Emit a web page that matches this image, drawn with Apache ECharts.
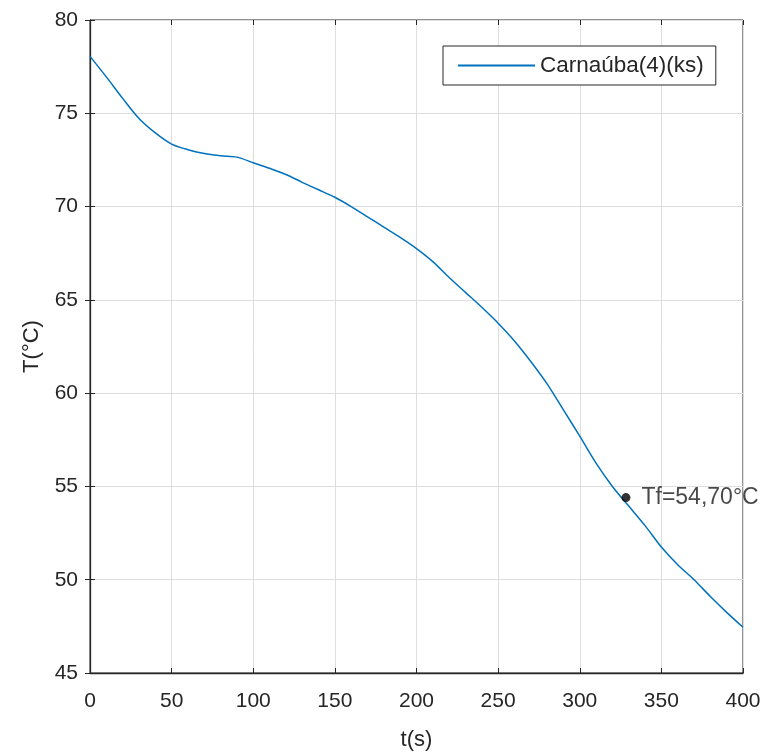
<!DOCTYPE html>
<html>
<head>
<meta charset="utf-8">
<script src="https://cdn.jsdelivr.net/npm/echarts@6/dist/echarts.min.js"></script>
<style>
html,body{margin:0;padding:0;background:#fff;}
#chart{width:766px;height:753px;}
</style>
</head>
<body>
<div id="chart"></div>
<script>
// Data
var timeS = [0,10,20,30,40,50,60,70,80,90,100,110,120,130,140,150,160,170,180,190,200,210,220,230,240,250,260,270,280,290,300,310,320,330,340,350,360,370,380,390,400];
var tempC = [78.05,76.95,75.8,74.72,73.95,73.35,73.05,72.85,72.72,72.65,72.35,72.05,71.72,71.3,70.9,70.5,70.0,69.45,68.9,68.35,67.75,67.05,66.2,65.4,64.6,63.75,62.8,61.7,60.5,59.1,57.7,56.25,55.0,53.95,52.9,51.75,50.8,50.0,49.1,48.25,47.45];
var seriesName = 'Carnaúba(4)(ks)';
var markerPoint = [328.3, 54.4];
var markerLabel = 'Tf=54,70°C';
var xTicks = [0,50,100,150,200,250,300,350,400];
var yTicks = [45,50,55,60,65,70,75,80];
var xName = 't(s)';
var yName = 'T(°C)';

var lineData = timeS.map(function(t,i){return [t,tempC[i]];});
var font = 'Liberation Sans, Arial, Helvetica, sans-serif';
var txt = '#262626';

var chart = echarts.init(document.getElementById('chart'), null, {renderer:'canvas'});
var xMin = xTicks[0], xMax = xTicks[xTicks.length-1], xInt = xTicks[1]-xTicks[0];
var yMin = yTicks[0], yMax = yTicks[yTicks.length-1], yInt = yTicks[1]-yTicks[0];

chart.setOption({
  animation:false,
  backgroundColor:'#fff',
  grid:{left:90,right:23,top:20,bottom:80,containLabel:false,outerBoundsMode:'none',
    show:true,borderColor:'#262626',borderWidth:1,backgroundColor:'transparent'},
  legend:{
    data:[seriesName],
    left:443, top:46,
    icon:'rect', itemWidth:77, itemHeight:2,
    padding:[8,12,8,15],
    borderColor:'#262626', borderWidth:1, backgroundColor:'#fff',
    textStyle:{fontFamily:font,fontSize:22.5,color:txt}
  },
  xAxis:[{
    type:'value', min:xMin, max:xMax, interval:xInt,
    name:xName, nameLocation:'middle', nameGap:56,
    nameTextStyle:{fontFamily:font,fontSize:22,color:txt},
    axisLine:{show:true,lineStyle:{color:'#262626',width:1.3}},
    axisTick:{show:true,inside:true,length:5,lineStyle:{color:'#262626'}},
    axisLabel:{fontFamily:font,fontSize:21,color:txt,margin:18},
    splitLine:{show:true,lineStyle:{color:'#dedede',width:1}}
  },{
    type:'value', min:xMin, max:xMax, interval:xInt, position:'top',
    axisLine:{show:false}, axisTick:{show:true,inside:true,length:5,lineStyle:{color:'#262626'}},
    axisLabel:{show:false}, splitLine:{show:false}
  }],
  yAxis:[{
    type:'value', min:yMin, max:yMax, interval:yInt,
    name:yName, nameLocation:'middle', nameGap:47,
    nameTextStyle:{fontFamily:font,fontSize:22,color:txt},
    axisLine:{show:true,lineStyle:{color:'#262626',width:1.3}},
    axisTick:{show:true,inside:true,length:5,lineStyle:{color:'#262626'}},
    axisLabel:{fontFamily:font,fontSize:21,color:txt,margin:12},
    splitLine:{show:true,lineStyle:{color:'#dedede',width:1}}
  },{
    type:'value', min:yMin, max:yMax, interval:yInt, position:'right',
    axisLine:{show:false}, axisTick:{show:true,inside:true,length:5,lineStyle:{color:'#262626'}},
    axisLabel:{show:false}, splitLine:{show:false}
  }],
  series:[{
    name:seriesName, type:'line', data:lineData,
    showSymbol:false, smooth:0.3,
    lineStyle:{color:'#0072BD',width:1.5},
    itemStyle:{color:'#0072BD'},
    z:3
  },{
    name:'marker', type:'scatter', data:[markerPoint],
    symbol:'circle', symbolSize:9,
    itemStyle:{color:'#000'},
    label:{show:true,position:'right',distance:11,formatter:markerLabel,
      fontFamily:font,fontSize:23,color:'#1a1a1a'},
    z:4
  }]
});
</script>
</body>
</html>
